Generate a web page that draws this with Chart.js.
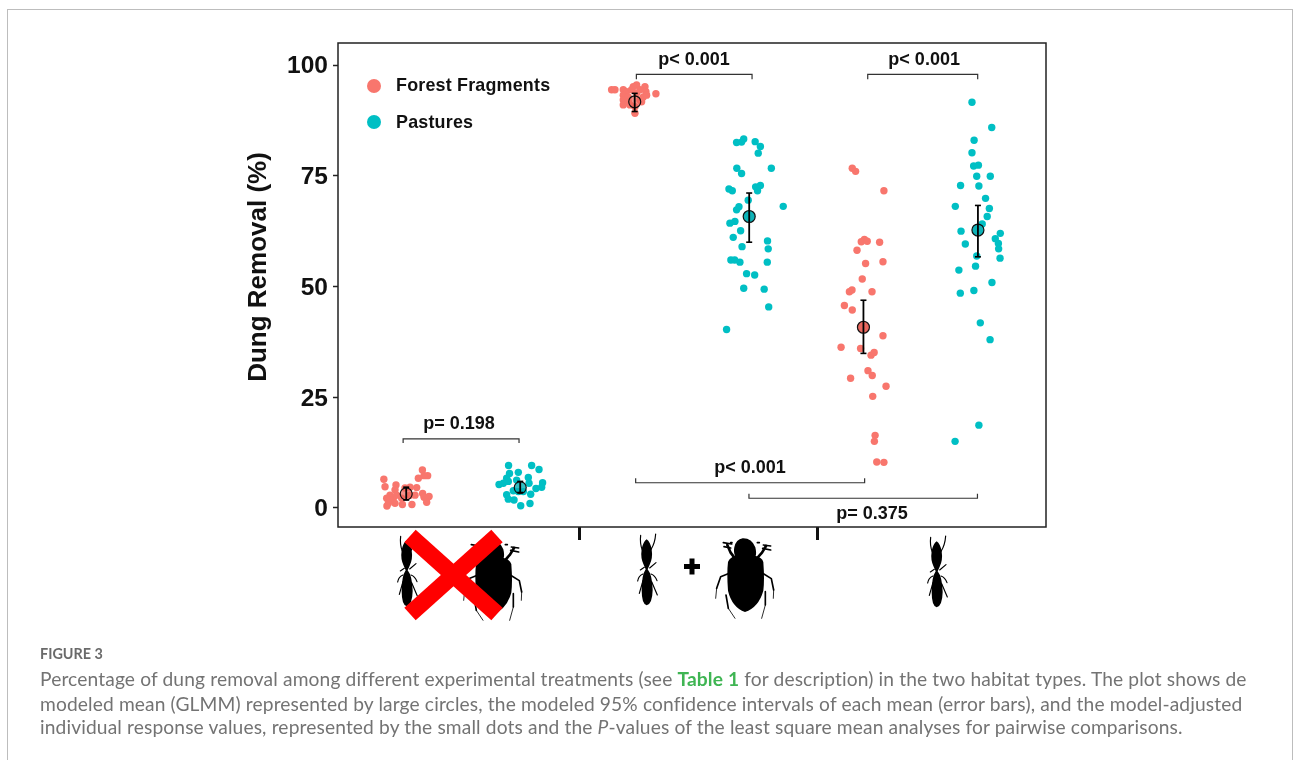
<!DOCTYPE html>
<html>
<head>
<meta charset="utf-8">
<title>Figure 3</title>
<script src="https://cdn.jsdelivr.net/npm/chart.js@4"></script>
<style>
html, body { margin: 0; padding: 0; background: #fff; overflow: hidden; }
#page { position: relative; width: 1293px; height: 760px; }
#card { position: absolute; left: 7px; top: 9px; width: 1284px; height: 760px; border: 1px solid #bdbdbd; border-width: 1.5px 1.5px 0 1.5px; }
#chart { position: absolute; left: 0; top: 0; }
#icons { position: absolute; left: 0; top: 0; }
.legend-dot { position: absolute; width: 14px; height: 14px; border-radius: 50%; }
.legend-text { position: absolute; left: 396px; font: bold 17.9px "Liberation Sans", Arial, sans-serif; color: #111; letter-spacing: 0.2px; white-space: nowrap; }
.cap { position: absolute; left: 40px; font-family: Lato, sans-serif; font-size: 19.2px; color: #737373; white-space: nowrap; letter-spacing: 0.13px; }
.cap b { color: #3fb553; }
#fig { position: absolute; left: 40px; top: 645px; font: bold 14.4px Lato, sans-serif; color: #6a6a6a; }
</style>
</head>
<body>
<div id="page">
    <div id="card"></div>
    <canvas id="chart" width="1293" height="760"></canvas>

    <!-- 图例 -->
    <div class="legend-dot" style="left:367px;top:79px;background:#F8766D"></div>
    <div class="legend-text" style="top:75px">Forest Fragments</div>
    <div class="legend-dot" style="left:367px;top:115px;background:#00BFC4"></div>
    <div class="legend-text" style="top:112px">Pastures</div>

    <!-- 昆虫图标 -->
    <svg id="icons" width="1293" height="760">
        <defs>
            <g id="termite" transform="scale(0.3333)" stroke="#000" fill="#000" stroke-width="3.5" stroke-linecap="round">
                <path stroke="none" d="M65 28 Q76 36 80 58 Q84 85 74 104 L68 118 Q82 135 83 180 Q82 222 65 226 Q50 222 50 180 Q50 135 62 118 L56 104 Q46 85 50 58 Q54 36 65 28 Z"/>
                <path fill="none" d="M52 60 Q44 40 47 16 M78 58 Q90 40 92 12 M54 132 Q40 138 38 153 M78 132 Q90 136 96 152 M58 112 L46 120 M74 114 L93 98 M54 152 L43 190 M80 155 L97 195"/>
            </g>
            <g id="beetle" transform="scale(0.3333)" stroke="#000" fill="#000" stroke-width="5" stroke-linecap="round" stroke-linejoin="round">
                <path stroke="none" d="M103 52 Q108 28 128 25 Q155 24 166 52 Q170 68 167 78 Q186 82 190 96 Q194 150 190 182 Q176 232 135 246 Q96 232 84 182 Q80 130 84 96 Q90 82 105 78 Q100 66 103 52 Z"/>
                <path fill="none" stroke-width="8" d="M107 88 L92 68 L82 45 M168 88 L186 68 L198 48"/>
                <path fill="none" d="M70 38 L95 42 M72 50 L92 54 M188 55 L212 60 M190 45 L212 48 M172 38 L178 38 M92 38 L96 38 M88 130 L62 140 L50 175 M188 130 L214 146 L221 180 M78 195 L85 235 M196 185 L196 225"/>
                <path fill="none" stroke-width="2.5" d="M50 175 L47 205 M221 180 L220 205 M85 235 L105 265 M196 225 L185 265"/>
            </g>
        </defs>
        <use href="#termite" x="385" y="531"/>
        <use href="#beetle" x="448" y="532"/>
        <g stroke="#f00" stroke-width="17">
            <line x1="410" y1="536" x2="497" y2="614"/>
            <line x1="497" y1="536" x2="410" y2="614"/>
        </g>
        <use href="#termite" x="625" y="530"/>
        <path d="M684 566.5 H700 M692 558.500 V574.500" stroke="#000" stroke-width="5"/>
        <use href="#beetle" x="700" y="530"/>
        <use href="#termite" x="915" y="532"/>
    </svg>

    <div id="fig">FIGURE 3</div>
    <div class="cap" style="top:667px">Percentage of dung removal among different experimental treatments (see <b>Table 1</b> for description) in the two habitat types. The plot shows de</div>
    <div class="cap" style="top:692px">modeled mean (GLMM) represented by large circles, the modeled 95% confidence intervals of each mean (error bars), and the model-adjusted</div>
    <div class="cap" style="top:715px">individual response values, represented by the small dots and the <i>P</i>-values of the least square mean analyses for pairwise comparisons.</div>
</div>

<script>
// x 轴: 处理 1 / 2 / 3 的分界在 100 和 200, 点的 x 含抖动
const yTicks = [0, 25, 50, 75, 100];
const xBreaks = [100, 200];

const forestX1 = [34.2, 36.4, 34.9, 32.5, 18, 18.5, 23.1, 22.7, 29, 31.8, 20.6, 19.2, 22, 31.1, 34.3, 34.9, 37, 36, 19.3, 22.7, 25.8, 29.8, 23.4, 26.9, 20.6, 29, 25.5, 19.9];
const forestY1 = [8.6, 7.3, 7.3, 6.7, 6.5, 4.8, 5.2, 4.1, 4.7, 4.6, 2.9, 2.2, 2.2, 2.9, 3.3, 2.4, 2.6, 1.3, 0.45, 1.05, 0.8, 0.8, 2.9, 4.5, 1.8, 2.9, 2.2, 1.05];
const forestX2 = [113.7, 115.1, 118.6, 120, 124.2, 122.8, 127.7, 128.1, 127, 128.4, 132.3, 118.6, 118.6, 118.6, 120.7, 120.7, 125.6, 123.5, 122.1, 125.6, 124.2, 121.4, 123.5, 126.3];
const forestY2 = [94.4, 94.4, 94.4, 94, 95.5, 95.1, 95.1, 94, 92.8, 93.2, 93.5, 93.2, 92.1, 91, 92.8, 91.7, 92.1, 89.1, 94.4, 94.4, 93.6, 91, 90.6, 91.7];
const forestX3 = [214.8, 216.2, 228.1, 219.9, 218.6, 221.1, 226.3, 216.8, 220.4, 227.7, 219, 213.6, 214.7, 223.1, 211.5, 214.8, 227.7, 210.1, 218.3, 222.7, 224, 221.4, 223.2, 214.1, 229, 223.4, 224.4, 224.1, 225.1, 228.1];
const forestY3 = [76.7, 76, 71.6, 60.6, 60.1, 60.2, 60, 58.2, 55.2, 55.6, 51.7, 48.8, 49.2, 48.8, 45.7, 44.7, 38.9, 36.3, 36, 34.5, 35.1, 31, 29.9, 29.3, 27.5, 25.2, 16.4, 15.05, 10.4, 10.3];

const pastureX1 = [70.4, 80.1, 83.2, 70.8, 74.5, 78.7, 69.6, 73.8, 79, 84.7, 66.4, 68.2, 70.3, 84.3, 81.9, 72.4, 76.6, 79.7, 69.6, 70.3, 72.7, 75.5, 79.4, 74.5];
const pastureY1 = [9.6, 9.6, 8.7, 7.8, 8.05, 6.9, 6.7, 6.3, 5.6, 5.7, 5.3, 5.6, 6, 4.7, 4.4, 3.9, 3.7, 3.1, 3, 2, 1.8, 0.5, 1, 3.7];
const pastureX2 = [166.2, 168.3, 169.2, 174, 176.2, 175.3, 166.3, 168.3, 180.8, 163, 164.4, 174.2, 176.2, 175, 171.1, 167.2, 166.2, 185.8, 165.5, 163.4, 167.9, 164.8, 168.5, 179.2, 179.5, 163.8, 165.4, 167.6, 179.1, 170.4, 173.8, 169.2, 177.8, 179.7, 162];
const pastureY2 = [82.5, 82.6, 83.3, 82.7, 81.6, 80.1, 76.7, 75.5, 76.7, 72, 71.6, 72.5, 72.8, 71.6, 69.5, 68, 67.3, 68.1, 64.7, 64.3, 62.6, 61.1, 59, 60.3, 58.5, 56, 56, 55.5, 55.5, 52.9, 52.6, 49.6, 49.4, 45.4, 40.3];
const pastureX3 = [265.1, 273.4, 266, 265.1, 265.8, 267.8, 267.1, 272.8, 260.3, 268, 270.8, 258.1, 272.4, 271.5, 269.4, 260.5, 277, 274.9, 262.3, 276.2, 276.3, 267.1, 276.9, 266.6, 259.6, 273.5, 265.9, 260.2, 268.6, 272.7, 268, 258];
const pastureY3 = [91.6, 85.9, 83, 80.2, 77.2, 77.4, 74.9, 74.9, 72.8, 72.7, 69.9, 68.1, 67.6, 65.8, 64.1, 62.5, 62, 60.8, 59.6, 59.7, 58.5, 56.9, 56.4, 54.6, 53.7, 50.9, 49.1, 48.5, 41.8, 38, 18.7, 15.05];

// GLMM 均值和 95% 置信区间
const meanX = [27.4, 75.3, 123.4, 171.5, 219.5, 267.6];
const meanY = [3.2, 4.6, 91.7, 65.8, 40.8, 62.75];
const ciLow = [1.8, 3.5, 89.5, 60, 34.9, 56.7];
const ciHigh = [4.7, 6, 93.6, 71.1, 46.9, 68.3];
const meanFill = ['rgba(240,100,90,.7)', 'rgba(0,175,180,.8)', 'rgba(240,100,90,.7)', '#0fb3b8', '#e9685f', '#0fb3b8'];

// 两两比较的括号和 p 值
const bracketLeft = [26.1, 124.1, 221.3, 123.8, 171.4];
const bracketRight = [74.8, 172.7, 267.5, 220, 267.4];
const bracketY = [15.6, 97.9, 97.9, 5.7, 2.2];
const bracketTip = [14.7, 96.8, 96.8, 6.7, 3.2];
const pLabels = ['p= 0.198', 'p< 0.001', 'p< 0.001', 'p< 0.001', 'p= 0.375'];
const pLabelX = [49.6, 148.3, 245, 171.8, 223.1];
const pLabelY = [19.2, 101.4, 101.4, 9.3, -1.1];

const toPoints = (xs, ys) => xs.map((x, i) => ({ x: x, y: ys[i] }));

const datasets = [];

// 散点
datasets.push({
    label: 'Forest Fragments',
    data: toPoints(forestX1.concat(forestX2, forestX3), forestY1.concat(forestY2, forestY3)),
    backgroundColor: '#F8766D',
    borderWidth: 0,
    pointRadius: 3.7,
    order: 3
});
datasets.push({
    label: 'Pastures',
    data: toPoints(pastureX1.concat(pastureX2, pastureX3), pastureY1.concat(pastureY2, pastureY3)),
    backgroundColor: '#00BFC4',
    borderWidth: 0,
    pointRadius: 3.7,
    order: 3
});

// 均值
datasets.push({
    label: 'Mean',
    data: toPoints(meanX, meanY),
    backgroundColor: meanFill,
    borderColor: '#111',
    borderWidth: 1.2,
    pointRadius: 6,
    order: 2
});

// 误差线
meanX.forEach((x, i) => {
    datasets.push({
        label: 'CI',
        data: [{ x: x, y: ciLow[i] }, { x: x, y: ciHigh[i] }],
        showLine: true,
        borderColor: '#000',
        borderWidth: 1.8,
        pointStyle: 'line',
        pointRadius: 3,
        pointBorderColor: '#000',
        pointBorderWidth: 1.6,
        order: 1
    });
});

// 括号
bracketLeft.forEach((left, i) => {
    datasets.push({
        label: 'Bracket',
        data: [
            { x: left, y: bracketTip[i] },
            { x: left, y: bracketY[i] },
            { x: bracketRight[i], y: bracketY[i] },
            { x: bracketRight[i], y: bracketTip[i] }
        ],
        showLine: true,
        borderColor: '#333',
        borderWidth: 1.2,
        pointRadius: 0,
        order: 4
    });
});

// 边框, p 值, y 轴刻度文字和标题
const annotations = {
    id: 'annotations',
    afterDraw(chart) {
        const ctx = chart.ctx;
        const area = chart.chartArea;
        ctx.save();
        ctx.strokeStyle = '#222';
        ctx.lineWidth = 1.5;
        ctx.strokeRect(area.left, area.top, area.right - area.left, area.bottom - area.top);

        ctx.fillStyle = '#111';
        ctx.font = 'bold 18px "Liberation Sans", Arial, sans-serif';
        ctx.textAlign = 'center';
        ctx.textBaseline = 'middle';
        pLabels.forEach((text, i) => {
            ctx.fillText(text, chart.scales.x.getPixelForValue(pLabelX[i]), chart.scales.y.getPixelForValue(pLabelY[i]) + 1);
        });

        ctx.font = 'bold 24.5px "Liberation Sans", Arial, sans-serif';
        ctx.textAlign = 'right';
        yTicks.forEach(v => {
            ctx.fillText(String(v), area.left - 10, chart.scales.y.getPixelForValue(v) + 1.5);
        });

        ctx.font = 'bold 26px "Liberation Sans", Arial, sans-serif';
        ctx.textAlign = 'center';
        ctx.translate(259, 267);
        ctx.rotate(-Math.PI / 2);
        ctx.fillText('Dung Removal (%)', 0, 0);
        ctx.restore();
    }
};

new Chart(document.getElementById('chart').getContext('2d'), {
    type: 'scatter',
    data: { datasets: datasets },
    plugins: [annotations],
    options: {
        responsive: false,
        animation: false,
        layout: { padding: { left: 240, top: 43, right: 247, bottom: 180 } },
        plugins: {
            legend: { display: false },
            tooltip: { enabled: false }
        },
        scales: {
            x: {
                type: 'linear',
                min: -1.26,
                max: 296.2,
                afterBuildTicks: axis => { axis.ticks = xBreaks.map(v => ({ value: v })); },
                afterFit: axis => { axis.height = 53; },
                ticks: { callback: () => '', autoSkip: false },
                border: { display: false },
                grid: { drawOnChartArea: false, tickLength: 13, tickWidth: 3, tickColor: '#111' }
            },
            y: {
                min: -4.29,
                max: 104.97,
                afterBuildTicks: axis => { axis.ticks = yTicks.map(v => ({ value: v })); },
                afterFit: axis => { axis.width = 98; },
                ticks: { callback: () => '' },
                border: { display: false },
                grid: { drawOnChartArea: false, tickLength: 5, tickWidth: 1.5, tickColor: '#222' }
            }
        }
    }
});
</script>
</body>
</html>
